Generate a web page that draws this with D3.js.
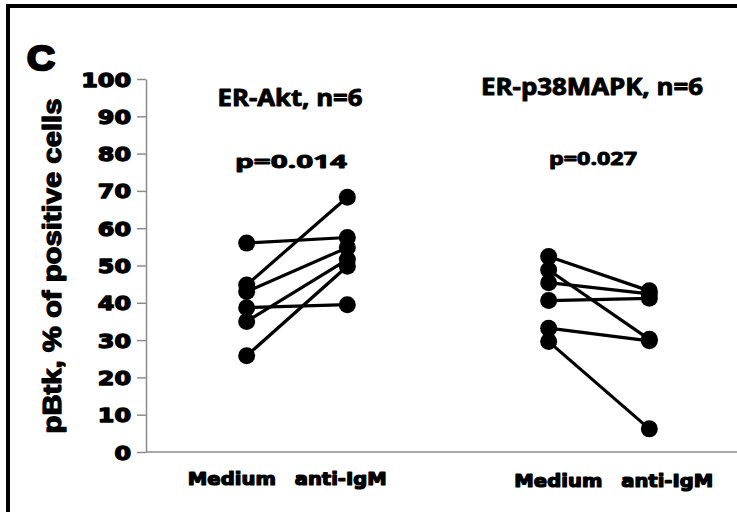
<!DOCTYPE html>
<html>
<head>
<meta charset="utf-8">
<script src="https://cdn.jsdelivr.net/npm/d3@7"></script>
<style>
  html, body { margin: 0; padding: 0; background: #fff; }
  svg { display: block; }
</style>
</head>
<body>
<div id="chart"></div>
<script>
// Paired before/after dot plot: pBtk positive cells, Medium vs anti-IgM
const groups = ["ER-Akt, n=6", "ER-p38MAPK, n=6"];
const pValues = ["p=0.014", "p=0.027"];
const conditions = ["Medium", "anti-IgM"];
const yTicks = [0, 10, 20, 30, 40, 50, 60, 70, 80, 90, 100];

const aktMedium = [56, 44.8, 43, 38.7, 35, 25.8];
const aktAntiIgM = [57.5, 68.3, 54.8, 39.5, 51.6, 49.8];
const p38Medium = [52.4, 48.8, 45.4, 40.6, 33.2, 29.6];
const p38AntiIgM = [43.2, 30.2, 42.4, 41.2, 29.8, 6.2];

const series = [
  { group: groups[0], medium: aktMedium, anti: aktAntiIgM },
  { group: groups[1], medium: p38Medium, anti: p38AntiIgM },
];

const width = 737;
const height = 512;

const svg = d3
  .select("#chart")
  .append("svg")
  .attr("width", width)
  .attr("height", height);

const arialFont = "'Liberation Sans', Arial, sans-serif";
const titleFont = "'Open Sans', 'DejaVu Sans', sans-serif";
const heavyFont = "'DejaVu Sans', Verdana, sans-serif";

// Draw text, then stretch it horizontally to the wanted width
function fitText(parent, o) {
  const g = parent
    .append("g")
    .attr("transform", `translate(${o.x},${o.y})` + (o.rotate ? ` rotate(${o.rotate})` : ""));
  const t = g
    .append("text")
    .attr("text-anchor", o.anchor || "middle")
    .attr("fill", "#000")
    .style("font-family", o.font)
    .style("font-weight", "bold")
    .style("font-size", `${o.size}px`)
    .text(o.text);
  if (o.stroke) {
    t.attr("stroke", "#000")
      .attr("stroke-width", o.stroke)
      .attr("stroke-linejoin", "round");
  }
  const len = t.node().getComputedTextLength();
  t.attr("transform", `scale(${o.width / len},1)`);
  return t;
}

// Frame (left and top border)
svg.append("path")
  .attr("d", `M8,${height} L8,6 L${width},6`)
  .attr("fill", "none")
  .attr("stroke", "#000")
  .attr("stroke-width", 4);

// Scales
const y = d3.scaleLinear().domain([0, 100]).range([452, 79]);

const groupX = d3.scaleBand().domain(groups).range([146, 750]);
const condX = d3
  .scalePoint()
  .domain(conditions)
  .range([0, groupX.bandwidth()])
  .padding(1);

// label positions sit a bit apart from the dots
const labelGroupX = d3.scaleBand().domain(groups).range([123, 776]);
const labelCondX = d3
  .scalePoint()
  .domain(conditions)
  .range([0, labelGroupX.bandwidth()])
  .padding(1);

const axisColor = "#8c8c8c";

// Y axis
const yAxis = svg
  .append("g")
  .attr("transform", "translate(146,0)")
  .call(
    d3.axisLeft(y).tickValues(yTicks).tickSize(9).tickSizeOuter(0).tickPadding(6)
  );
yAxis.select(".domain").attr("stroke", axisColor).attr("stroke-width", 1.5);
yAxis.selectAll(".tick line").attr("stroke", axisColor).attr("stroke-width", 1.5);
yAxis.selectAll(".tick text").remove();
yAxis.selectAll(".tick").each(function (d) {
  const s = String(d);
  fitText(d3.select(this), {
    x: -15,
    y: 7,
    text: s,
    anchor: "end",
    font: heavyFont,
    size: 19,
    width: s.length * 16.6,
    stroke: 1.3,
  });
});

// X baseline
svg.append("line")
  .attr("x1", 146)
  .attr("x2", width)
  .attr("y1", y(0))
  .attr("y2", y(0))
  .attr("stroke", axisColor)
  .attr("stroke-width", 1.5);

// Y axis title
fitText(svg, {
  x: 61,
  y: 266,
  rotate: -90,
  text: "pBtk, % of positive cells",
  font: arialFont,
  size: 25,
  width: 335,
  stroke: 1.2,
});

// Panel letter
fitText(svg, {
  x: 27,
  y: 70,
  anchor: "start",
  text: "C",
  font: arialFont,
  size: 35,
  width: 28,
  stroke: 2.5,
});

const titleY = [106, 95];
const titleLen = [145, 222];
const pY = [168, 165];
const pLen = [112, 88];
const labelY = [485, 487];

series.forEach((s, gi) => {
  const gx = groupX(s.group);
  const cx = gx + groupX.bandwidth() / 2;
  const xMed = gx + condX("Medium");
  const xAnti = gx + condX("anti-IgM");

  // group title
  fitText(svg, {
    x: cx - 7,
    y: titleY[gi],
    text: s.group,
    font: titleFont,
    size: 23,
    width: titleLen[gi],
    stroke: 0.9,
  });

  // p value
  fitText(svg, {
    x: cx - 6,
    y: pY[gi],
    text: pValues[gi],
    font: titleFont,
    size: 18,
    width: pLen[gi],
    stroke: 0.9,
  });

  // paired lines
  s.medium.forEach((m, i) => {
    svg.append("line")
      .attr("x1", xMed)
      .attr("y1", y(m))
      .attr("x2", xAnti)
      .attr("y2", y(s.anti[i]))
      .attr("stroke", "#000")
      .attr("stroke-width", 3.2);
  });

  // dots
  s.medium.forEach((m, i) => {
    svg.append("circle").attr("cx", xMed).attr("cy", y(m)).attr("r", 8.5).attr("fill", "#000");
    svg.append("circle").attr("cx", xAnti).attr("cy", y(s.anti[i])).attr("r", 8.5).attr("fill", "#000");
  });

  // category labels
  const lgx = labelGroupX(s.group);
  conditions.forEach((c) => {
    fitText(svg, {
      x: lgx + labelCondX(c),
      y: labelY[gi],
      text: c,
      font: heavyFont,
      size: 17,
      width: c === "Medium" ? 88 : 92,
      stroke: 1.2,
    });
  });
});
</script>
</body>
</html>
